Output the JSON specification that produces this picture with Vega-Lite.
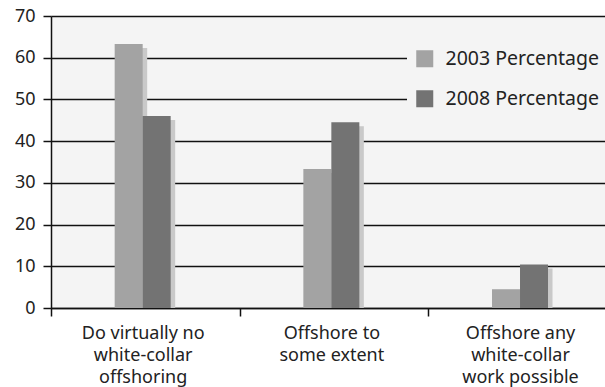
{
  "$schema": "https://vega.github.io/schema/vega-lite/v6.json",
  "autosize": "none",
  "padding": {"left": 51, "top": 16, "right": 0, "bottom": 79},
  "width": 566,
  "height": 292,
  "background": "white",
  "config": {
    "font": "Noto Sans",
    "view": {"fill": "#f4f4f4", "stroke": null}
  },
  "data": {
    "values": [
      {"category": "Do virtually no white-collar offshoring", "series": "2003 Percentage", "value": 63.3},
      {"category": "Do virtually no white-collar offshoring", "series": "2008 Percentage", "value": 46.0},
      {"category": "Offshore to some extent", "series": "2003 Percentage", "value": 33.3},
      {"category": "Offshore to some extent", "series": "2008 Percentage", "value": 44.5},
      {"category": "Offshore any white-collar work possible", "series": "2003 Percentage", "value": 4.5},
      {"category": "Offshore any white-collar work possible", "series": "2008 Percentage", "value": 10.4}
    ]
  },
  "encoding": {
    "x": {
      "field": "category",
      "type": "nominal",
      "sort": null,
      "scale": {"paddingInner": 0.7032, "paddingOuter": 0.3516, "align": 0.48},
      "axis": {
        "title": null,
        "labelAngle": 0,
        "tickOffset": -91.7,
        "labelOffset": 91.7,
        "tickSize": 8,
        "tickColor": "#111",
        "tickWidth": 1.5,
        "domainColor": "#111",
        "domainWidth": 1.5,
        "labelFontSize": 18,
        "labelColor": "#222",
        "labelPadding": 8,
        "labelLineHeight": 22,
        "labelBaseline": "top",
        "labelExpr": "datum.value == 'Do virtually no white-collar offshoring' ? ['Do virtually no', 'white-collar', 'offshoring'] : datum.value == 'Offshore to some extent' ? ['Offshore to', 'some extent'] : ['Offshore any', 'white-collar', 'work possible']"
      }
    },
    "y": {
      "field": "value",
      "type": "quantitative",
      "scale": {"domain": [0, 70], "nice": false},
      "axis": {
        "title": null,
        "values": [0, 10, 20, 30, 40, 50, 60, 70],
        "tickSize": 8,
        "tickColor": "#111",
        "tickWidth": 1.5,
        "domainColor": "#111",
        "domainWidth": 1.5,
        "gridColor": "#111",
        "gridWidth": 1.3,
        "gridOpacity": 1,
        "labelFontSize": 18,
        "labelColor": "#222",
        "labelPadding": 8
      }
    }
  },
  "layer": [
    {
      "mark": {"type": "bar", "yOffset": 4, "color": "#c9c9c9", "clip": true},
      "encoding": {
        "xOffset": {"field": "series", "type": "nominal", "scale": {"range": [4.5, 60.5], "paddingInner": 0, "paddingOuter": 0}}
      }
    },
    {
      "mark": {"type": "bar"},
      "encoding": {
        "xOffset": {"field": "series", "type": "nominal", "scale": {"paddingInner": 0, "paddingOuter": 0}},
        "color": {
          "field": "series",
          "type": "nominal",
          "scale": {"domain": ["2003 Percentage", "2008 Percentage"], "range": ["#a3a3a3", "#737373"]},
          "legend": {
            "title": null,
            "orient": "none",
            "legendX": 356,
            "legendY": 25,
            "fillColor": "#f4f4f4",
            "padding": 8,
            "symbolType": "square",
            "symbolSize": 289,
            "symbolStrokeWidth": 0,
            "symbolOpacity": 1,
            "labelFontSize": 19.5,
            "labelColor": "#222",
            "labelOffset": 11,
            "labelLimit": 300,
            "rowPadding": 19
          }
        }
      }
    }
  ],
  "resolve": {"scale": {"xOffset": "independent"}}
}
